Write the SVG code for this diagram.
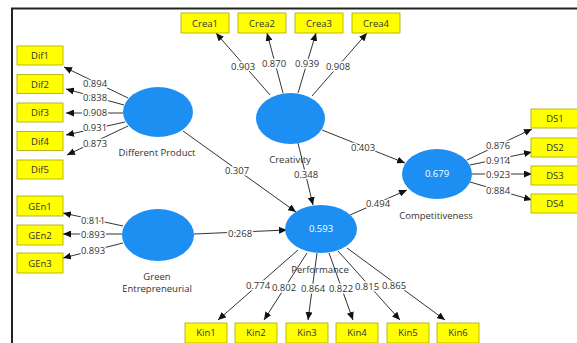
<svg xmlns="http://www.w3.org/2000/svg" width="577" height="343" viewBox="0 0 577 343">
<style>
text{font-family:"Open Sans","Noto Sans",sans-serif;font-size:9.5px;fill:#333;text-anchor:middle;dominant-baseline:central}
.box rect{fill:#ffff00;stroke:#a8a800;stroke-width:0.8}
.lv ellipse{fill:#1e8ff2}
.lv text.v{fill:#ffffff}
.c line{stroke:#333;stroke-width:1;marker-end:url(#ah)}
.c text{stroke:#fff;stroke-width:3;paint-order:stroke;stroke-linejoin:round}
</style>
<defs>
<marker id="ah" markerUnits="userSpaceOnUse" markerWidth="8" markerHeight="7" refX="8" refY="3.5" orient="auto">
<path d="M0,0 L8,3.5 L0,7 z" fill="#111"/>
</marker>
</defs>
<rect x="0" y="0" width="577" height="343" fill="#fff"/>
<path d="M12,343 V8.5 H577" fill="none" stroke="#222" stroke-width="2"/>

<g id="connectors" class="c">
<line x1="128" y1="98" x2="64" y2="67"/><text x="95" y="83">0.894</text>
<line x1="124" y1="105" x2="66" y2="89"/><text x="95" y="97">0.838</text>
<line x1="123" y1="113" x2="66" y2="113"/><text x="95" y="112">0.908</text>
<line x1="125" y1="122" x2="66" y2="135"/><text x="95" y="127">0.931</text>
<line x1="128" y1="126" x2="67" y2="155"/><text x="95" y="143">0.873</text>

<line x1="270" y1="95" x2="216" y2="33"/><text x="243" y="66">0.903</text>
<line x1="283" y1="93" x2="267" y2="33"/><text x="274" y="63">0.870</text>
<line x1="298" y1="93" x2="316" y2="33"/><text x="307" y="63">0.939</text>
<line x1="312" y1="96" x2="367" y2="33"/><text x="338" y="66">0.908</text>

<line x1="322" y1="130" x2="405" y2="163"/><text x="363" y="147">0.403</text>
<line x1="298" y1="143" x2="313" y2="205"/><text x="306" y="174">0.348</text>
<line x1="183" y1="131" x2="296" y2="212"/><text x="237" y="170">0.307</text>
<line x1="194" y1="234" x2="287" y2="230"/><text x="240" y="233">0.268</text>
<line x1="350" y1="215" x2="407" y2="190"/><text x="378" y="203">0.494</text>

<line x1="467" y1="160" x2="532" y2="129"/><text x="498" y="145">0.876</text>
<line x1="470" y1="165" x2="532" y2="152"/><text x="498" y="160">0.914</text>
<line x1="472" y1="174" x2="532" y2="174"/><text x="498" y="174">0.923</text>
<line x1="470" y1="182" x2="532" y2="200"/><text x="498" y="190">0.884</text>

<line x1="123" y1="226" x2="63" y2="213"/><text x="93" y="220">0.811</text>
<line x1="122" y1="234" x2="63" y2="234"/><text x="93" y="234">0.893</text>
<line x1="123" y1="243" x2="63" y2="258"/><text x="93" y="250">0.893</text>

<line x1="298" y1="250" x2="218" y2="320"/><text x="258" y="285">0.774</text>
<line x1="307" y1="253" x2="264" y2="320"/><text x="284" y="287">0.802</text>
<line x1="317" y1="253" x2="308" y2="320"/><text x="313" y="288">0.864</text>
<line x1="329" y1="253" x2="353" y2="320"/><text x="341" y="288">0.822</text>
<line x1="338" y1="251" x2="400" y2="320"/><text x="367" y="286">0.815</text>
<line x1="347" y1="248" x2="445" y2="320"/><text x="394" y="285">0.865</text>
</g>

<g id="different-product" class="lv"><ellipse cx="158" cy="112" rx="35" ry="25"/><text x="157" y="152">Different Product</text></g>
<g id="creativity" class="lv"><ellipse cx="290.5" cy="118.5" rx="34.5" ry="25.5"/><text x="290" y="159">Creativity</text></g>
<g id="competitiveness" class="lv"><ellipse cx="437" cy="174" rx="35" ry="25"/><text class="v" x="437" y="173">0.679</text><text x="436" y="215">Competitiveness</text></g>
<g id="performance" class="lv"><ellipse cx="321" cy="229" rx="36" ry="24"/><text class="v" x="321" y="228">0.593</text><text x="320" y="269">Performance</text></g>
<g id="green-entrepreneurial" class="lv"><ellipse cx="158" cy="235" rx="36" ry="26"/><text x="157" y="276">Green</text><text x="157" y="288">Entrepreneurial</text></g>

<g id="Dif1" class="box"><rect x="17" y="46" width="46" height="19"/><text x="40" y="55.5">Dif1</text></g>
<g id="Dif2" class="box"><rect x="17" y="74.5" width="46" height="19"/><text x="40" y="84">Dif2</text></g>
<g id="Dif3" class="box"><rect x="17" y="103" width="46" height="19"/><text x="40" y="112.5">Dif3</text></g>
<g id="Dif4" class="box"><rect x="17" y="131.5" width="46" height="19"/><text x="40" y="141">Dif4</text></g>
<g id="Dif5" class="box"><rect x="17" y="160" width="46" height="19"/><text x="40" y="169.5">Dif5</text></g>

<g id="Crea1" class="box"><rect x="181" y="13" width="48" height="20"/><text x="205" y="23">Crea1</text></g>
<g id="Crea2" class="box"><rect x="238" y="13" width="48" height="20"/><text x="262" y="23">Crea2</text></g>
<g id="Crea3" class="box"><rect x="295" y="13" width="48" height="20"/><text x="319" y="23">Crea3</text></g>
<g id="Crea4" class="box"><rect x="352" y="13" width="48" height="20"/><text x="376" y="23">Crea4</text></g>

<g id="DS1" class="box"><rect x="531" y="109" width="50" height="19"/><text x="555" y="118.5">DS1</text></g>
<g id="DS2" class="box"><rect x="531" y="138" width="50" height="19"/><text x="555" y="147.5">DS2</text></g>
<g id="DS3" class="box"><rect x="531" y="166" width="50" height="19"/><text x="555" y="175.5">DS3</text></g>
<g id="DS4" class="box"><rect x="531" y="194" width="50" height="19"/><text x="555" y="203.5">DS4</text></g>

<g id="GEn1" class="box"><rect x="17" y="196" width="46" height="20"/><text x="40" y="206">GEn1</text></g>
<g id="GEn2" class="box"><rect x="17" y="225" width="46" height="20"/><text x="40" y="235">GEn2</text></g>
<g id="GEn3" class="box"><rect x="17" y="253" width="46" height="20"/><text x="40" y="263">GEn3</text></g>

<g id="Kin1" class="box"><rect x="185" y="323" width="42" height="20"/><text x="206" y="332.5">Kin1</text></g>
<g id="Kin2" class="box"><rect x="235" y="323" width="42" height="20"/><text x="256" y="332.5">Kin2</text></g>
<g id="Kin3" class="box"><rect x="286" y="323" width="42" height="20"/><text x="307" y="332.5">Kin3</text></g>
<g id="Kin4" class="box"><rect x="336" y="323" width="42" height="20"/><text x="357" y="332.5">Kin4</text></g>
<g id="Kin5" class="box"><rect x="387" y="323" width="42" height="20"/><text x="408" y="332.5">Kin5</text></g>
<g id="Kin6" class="box"><rect x="437" y="323" width="42" height="20"/><text x="458" y="332.5">Kin6</text></g>
</svg>
